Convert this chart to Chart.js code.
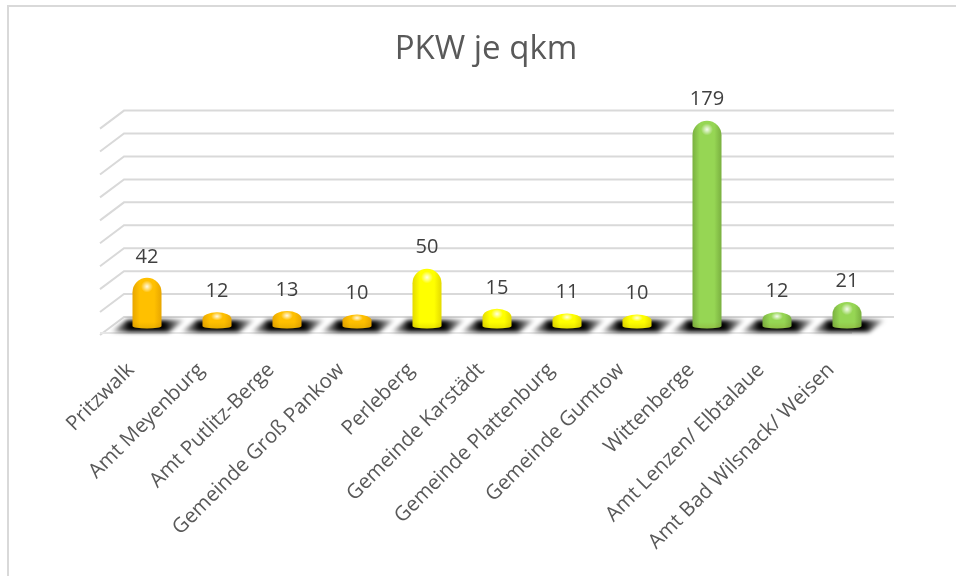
<!DOCTYPE html>
<html>
<head>
<meta charset="utf-8">
<script src="https://cdn.jsdelivr.net/npm/chart.js@4"></script>
<style>
  body { margin: 0; background: #fff; overflow: hidden; }
  #frame { position: absolute; left: 7px; top: 5px; width: 949px; height: 571px; border-top: 2px solid #d9d9d9; border-left: 2px solid #d9d9d9; box-sizing: border-box; }
  #wrap { position: absolute; left: 0; top: 0; width: 956px; height: 576px; }
</style>
</head>
<body>
<div id="frame"></div>
<div id="wrap"><canvas id="pkw"></canvas></div>
<script>
const categories = ['Pritzwalk', 'Amt Meyenburg', 'Amt Putlitz-Berge', 'Gemeinde Groß Pankow', 'Perleberg',
  'Gemeinde Karstädt', 'Gemeinde Plattenburg', 'Gemeinde Gumtow', 'Wittenberge', 'Amt Lenzen/ Elbtalaue',
  'Amt Bad Wilsnack/ Weisen'];
const values = [42, 12, 13, 10, 50, 15, 11, 10, 179, 12, 21];
const barColors = ['#FFC000', '#FFC000', '#FFC000', '#FFC000', '#FFFF00', '#FFFF00', '#FFFF00', '#FFFF00',
  '#96D654', '#96D654', '#96D654'];
const edgeColors = ['#E8A600', '#E8A600', '#E8A600', '#E8A600', '#E4DA00', '#E4DA00', '#E4DA00', '#E4DA00',
  '#7AB040', '#7AB040', '#7AB040'];

const DEPTH = 9; // half of the 3d floor depth
const SLANT = 12;
const FONT = '"Open Sans"';

// 3d walls, floor lines and the shadows under the bars
function drawBackdrop(chart) {
  const { ctx, chartArea: area, scales } = chart;
  ctx.save();
  ctx.strokeStyle = '#d9d9d9';
  ctx.lineWidth = 2;
  scales.y.ticks.forEach(t => {
    const y = scales.y.getPixelForValue(t.value);
    ctx.beginPath();
    ctx.moveTo(area.left - SLANT, y + DEPTH);
    ctx.lineTo(area.left + SLANT, y - DEPTH);
    ctx.lineTo(area.right + SLANT, y - DEPTH);
    ctx.stroke();
  });
  const y0 = scales.y.getPixelForValue(0);
  ctx.strokeStyle = '#e6e6e6';
  ctx.beginPath();
  ctx.moveTo(area.left - SLANT, y0 + 7);
  ctx.lineTo(area.right - 30, y0 + 7);
  ctx.stroke();

  chart.getDatasetMeta(0).data.forEach(bar => {
    const g = ctx.createLinearGradient(bar.x - 36, 0, bar.x + 38, 0);
    g.addColorStop(0, 'rgba(0,0,0,0.1)');
    g.addColorStop(0.25, '#000');
    g.addColorStop(0.72, '#000');
    g.addColorStop(1, 'rgba(0,0,0,0.1)');
    ctx.filter = 'blur(2px)';
    ctx.fillStyle = g;
    ctx.beginPath();
    ctx.moveTo(bar.x - 36, y0 + 6);
    ctx.lineTo(bar.x + 22, y0 + 6);
    ctx.lineTo(bar.x + 38, y0 - 6);
    ctx.lineTo(bar.x - 20, y0 - 6);
    ctx.closePath();
    ctx.fill();
    ctx.filter = 'none';
  });
  ctx.restore();
}

// rounded 3d column, takes its box from the bar element
function drawCapsule(ctx, bar, i) {
  const w = bar.width, left = bar.x - w / 2, right = bar.x + w / 2;
  const top = bar.y, base = bar.base;
  const ry = Math.min(w / 2, (base - top) * 0.5);

  ctx.beginPath();
  ctx.moveTo(left, base);
  ctx.lineTo(left, top + ry);
  ctx.ellipse(bar.x, top + ry, w / 2, ry, 0, Math.PI, 0);
  ctx.lineTo(right, base);
  ctx.ellipse(bar.x, base, w / 2, 2.5, 0, 0, Math.PI);
  ctx.closePath();

  const side = ctx.createLinearGradient(left, 0, right, 0);
  side.addColorStop(0, edgeColors[i]);
  side.addColorStop(0.25, barColors[i]);
  side.addColorStop(0.75, barColors[i]);
  side.addColorStop(1, edgeColors[i]);
  ctx.fillStyle = side;
  ctx.fill();

  ctx.save();
  ctx.clip();
  const lip = ctx.createLinearGradient(0, base - 4, 0, base + 3);
  lip.addColorStop(0, 'rgba(120,90,0,0)');
  lip.addColorStop(1, 'rgba(120,90,0,0.18)');
  ctx.fillStyle = lip;
  ctx.fillRect(left, base - 4, w, 8);

  // the shine on the dome
  const hy = top + ry * 0.6;
  const sy = Math.min(1, ry / 10);
  ctx.translate(bar.x, hy);
  ctx.scale(1, sy);
  const spot = ctx.createRadialGradient(0, 0, 0, 0, 0, 6);
  spot.addColorStop(0, 'rgba(255,255,255,0.9)');
  spot.addColorStop(1, 'rgba(255,255,255,0)');
  ctx.fillStyle = spot;
  ctx.fillRect(-7, -7, 14, 14);
  ctx.restore();
}

const capsules = {
  id: 'capsules',
  beforeDatasetDraw(chart) {
    const { ctx } = chart;
    drawBackdrop(chart);
    chart.getDatasetMeta(0).data.forEach((bar, i) => {
      drawCapsule(ctx, bar, i);
      ctx.save();
      ctx.fillStyle = '#404040';
      ctx.font = '20px ' + FONT;
      ctx.textAlign = 'center';
      ctx.textBaseline = 'middle';
      ctx.fillText(values[i], bar.x, bar.y - 21);
      ctx.restore();
    });
    return false; // bars are painted above
  }
};

new Chart(document.getElementById('pkw'), {
  type: 'bar',
  plugins: [capsules],
  data: {
    labels: categories,
    datasets: [{ label: 'PKW je qkm', data: values, backgroundColor: barColors, barThickness: 29 }]
  },
  options: {
    responsive: true,
    maintainAspectRatio: false,
    animation: false,
    layout: { padding: { left: 16 } },
    plugins: {
      legend: { display: false },
      tooltip: { enabled: false },
      title: {
        display: true,
        text: 'PKW je qkm',
        color: '#595959',
        font: { family: FONT, size: 33, weight: 'normal', lineHeight: 1.2 },
        padding: { top: 30, bottom: 50 }
      }
    },
    scales: {
      x: {
        afterFit: s => { s.height = 250; },
        grid: { display: false },
        border: { display: false },
        ticks: {
          maxRotation: 45,
          minRotation: 45,
          autoSkip: false,
          color: '#595959',
          padding: 24,
          labelOffset: -16,
          font: { family: FONT, size: 20.5 }
        }
      },
      y: {
        min: 0,
        max: 180,
        afterFit: s => { s.width = 96; },
        grid: { display: false },
        border: { display: false },
        ticks: { stepSize: 20, display: false }
      },
      right: {
        position: 'right',
        afterFit: s => { s.width = 74; },
        grid: { display: false },
        border: { display: false },
        ticks: { display: false }
      }
    }
  }
});
</script>
</body>
</html>
